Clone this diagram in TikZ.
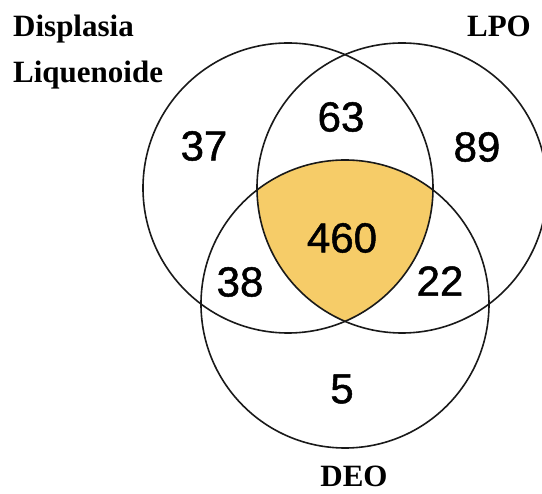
\documentclass[tikz,border=0pt]{standalone}
\usepackage{fontspec}
\setmainfont{Liberation Serif}
\newfontfamily\numfont[FakeBold=1.2]{Liberation Sans}
\definecolor{coreyellow}{RGB}{246,204,104}
\definecolor{ringgray}{RGB}{25,25,25}
\begin{document}
\begin{tikzpicture}[x=1pt,y=-1pt,
  ring/.style={draw=ringgray,line width=1.6pt},
  count/.style={inner sep=0pt,font=\numfont\fontsize{42}{42}\selectfont},
  setname/.style={inner sep=0pt,anchor=base,font=\bfseries\fontsize{31}{31}\selectfont}]
\useasboundingbox (0,0) rectangle (542,494);
% circle centres
\coordinate (cL) at (288,188);
\coordinate (cR) at (402,188);
\coordinate (cD) at (345,304);
% triple intersection
\begin{scope}
  \clip (cL) circle[radius=145];
  \clip (cR) circle[radius=145];
  \fill[coreyellow] (cD) circle[radius=144];
\end{scope}
\draw[ring] (cL) circle[radius=145];
\draw[ring] (cR) circle[radius=145];
\draw[ring] (cD) circle[radius=144];
% region counts
\node[count] (n37) at (204,146) {37};
\node[count] (n63) at (341,117) {63};
\node[count] (n89) at (477,147) {89};
\node[count] (n460) at (342,238) {460};
\node[count] (n38) at (240,282) {38};
\node[count] (n22) at (440,281) {22};
\node[count] (n5) at (342,389) {5};
% set names
\node[setname,anchor=base west] (lblDL1) at (13,37) {Displasia};
\node[setname,anchor=base west] (lblDL2) at (13,83) {Liquenoide};
\node[setname,anchor=base east] (lblLPO) at (531,37) {LPO};
\node[setname] (lblDEO) at (354,487) {DEO};
\end{tikzpicture}
\end{document}
